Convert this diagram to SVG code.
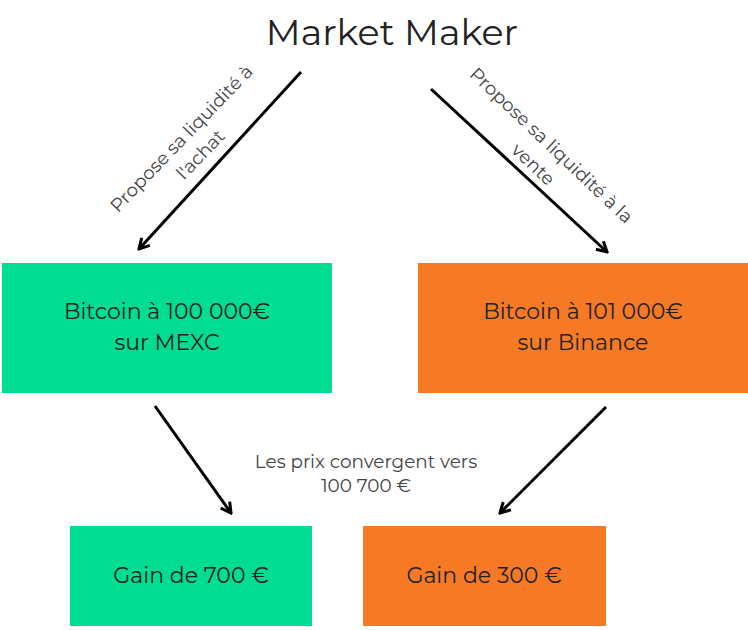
<svg xmlns="http://www.w3.org/2000/svg" width="748" height="630" viewBox="0 0 748 630">
<defs><marker id="a" markerUnits="userSpaceOnUse" markerWidth="16" markerHeight="16" refX="14" refY="8" orient="auto"><path d="M4 2.5L14 8L4 13.5" fill="none" stroke="#000" stroke-width="3"/></marker></defs>
<style>text{font-family:Montserrat,"Open Sans","Noto Sans",sans-serif;fill:#222;text-anchor:middle}
.m{font-size:22px}.s{font-size:18.4px;fill:#444}.g{fill:#00dc92}.o{fill:#f67a25}
#c line{stroke:#000;stroke-width:3;marker-end:url(#a)}</style>
<rect width="748" height="630" fill="#fff"/>
<text x="392" y="45" style="font-size:36.5px">Market Maker</text>
<g id="c"><line x1="301" y1="72" x2="139" y2="249"/><line x1="431" y1="89" x2="607" y2="252"/><line x1="155" y1="406" x2="231" y2="513"/><line x1="606" y1="407" x2="500" y2="513"/></g>
<g id="n1"><rect class="g" x="2" y="263" width="330" height="130"/><text class="m" x="167" y="319">Bitcoin à 100 000€</text><text class="m" x="167" y="350">sur MEXC</text></g>
<g id="n2"><rect class="o" x="418" y="263" width="330" height="130"/><text class="m" x="583" y="319">Bitcoin à 101 000€</text><text class="m" x="583" y="350">sur Binance</text></g>
<g id="n3"><rect class="g" x="70" y="526" width="242" height="100"/><text class="m" x="191" y="583">Gain de 700 €</text></g>
<g id="n4"><rect class="o" x="363" y="526" width="243" height="100"/><text class="m" x="484" y="583">Gain de 300 €</text></g>
<text class="s" x="366" y="468">Les prix convergent vers</text><text class="s" x="366" y="492">100 700 €</text>
<text class="s" transform="translate(186 143) rotate(-46)">Propose sa liquidité à</text><text class="s" transform="translate(205 159) rotate(-46)">l'achat</text>
<text class="s" transform="translate(547 150) rotate(43.5)">Propose sa liquidité à la</text><text class="s" transform="translate(529 169) rotate(43.5)">vente</text>
</svg>
